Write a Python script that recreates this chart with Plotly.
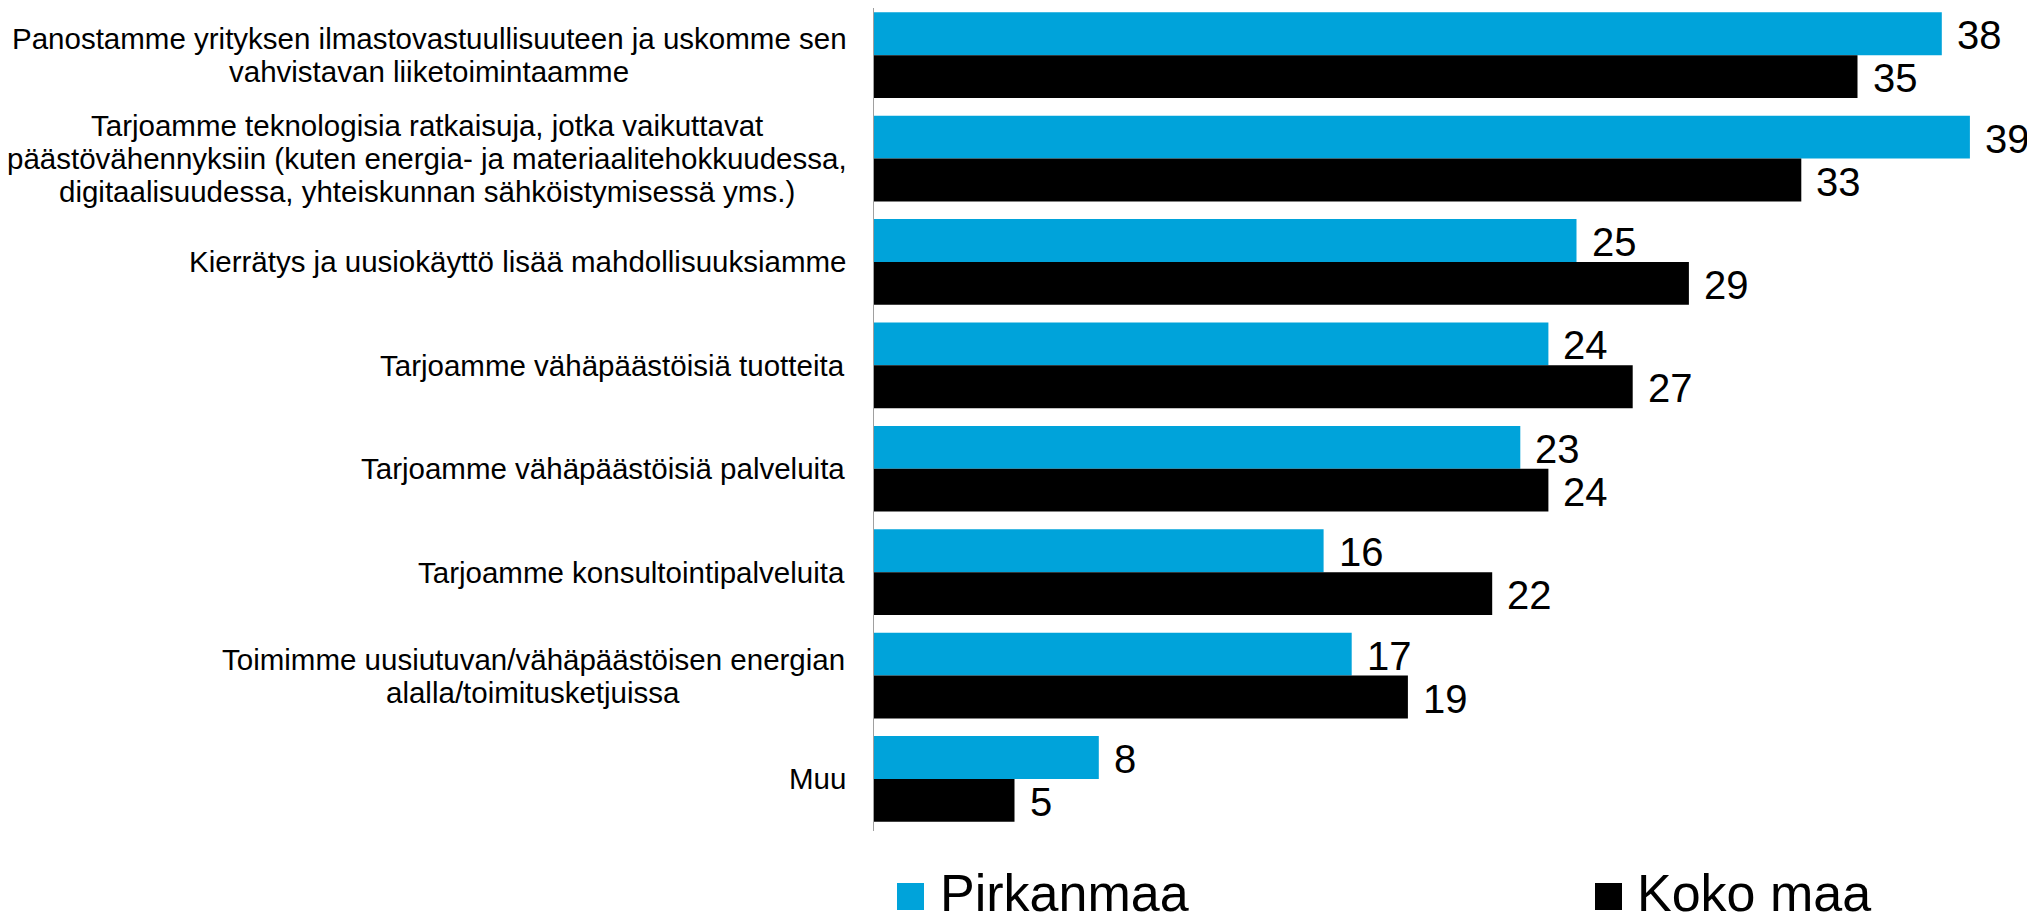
import plotly.graph_objects as go

categories = [
    "Panostamme yrityksen ilmastovastuullisuuteen ja uskomme sen<br>vahvistavan liiketoimintaamme",
    "Tarjoamme teknologisia ratkaisuja, jotka vaikuttavat<br>päästövähennyksiin (kuten energia- ja materiaalitehokkuudessa,<br>digitaalisuudessa, yhteiskunnan sähköistymisessä yms.)",
    "Kierrätys ja uusiokäyttö lisää mahdollisuuksiamme",
    "Tarjoamme vähäpäästöisiä tuotteita",
    "Tarjoamme vähäpäästöisiä palveluita",
    "Tarjoamme konsultointipalveluita",
    "Toimimme uusiutuvan/vähäpäästöisen energian<br>alalla/toimitusketjuissa",
    "Muu",
]
pirkanmaa = [38, 39, 25, 24, 23, 16, 17, 8]
koko_maa = [35, 33, 29, 27, 24, 22, 19, 5]
series_names = ["Pirkanmaa", "Koko maa"]
series_colors = ["#00A3DA", "#000000"]

FONT = "Liberation Sans, Arial, sans-serif"

# page body has an 8px default margin; work in page pixels and convert
OFF = 8
W, H = 2035 - OFF, 915 - OFF
ML = 874 - OFF
MT = 0
MB = 84
MR = 27
PW = W - ML - MR
PH = H - MT - MB
PX_PER_UNIT = 28.1
XMAX = PW / PX_PER_UNIT

# category band geometry (page px): band 0 top at 3.45, band height 103.4
BAND_TOP = 3.45 - OFF
BAND = 103.4
y_top = -0.5 + (0 - BAND_TOP) / BAND
y_bot = -0.5 + (PH - BAND_TOP) / BAND

# Arial / Liberation Sans advance widths (1/1000 em) for label centring
ADV = {" ": 278, "a": 556, "b": 556, "c": 500, "d": 556, "e": 556, "f": 278,
       "g": 556, "h": 556, "i": 222, "j": 222, "k": 500, "l": 222, "m": 833,
       "n": 556, "o": 556, "p": 556, "q": 556, "r": 333, "s": 500, "t": 278,
       "u": 556, "v": 500, "w": 722, "x": 500, "y": 500, "z": 500, "ä": 556,
       "ö": 556, "T": 611, "P": 667, "K": 667, "M": 833, "(": 333, ")": 333,
       ",": 278, ".": 278, "-": 333, "/": 278}

LABEL_SIZE = 29.5
LINE_SP = 33.0
LABEL_GAP = 27.5


def text_w(s, size):
    return sum(ADV.get(ch, 556) for ch in s) * size / 1000.0


fig = go.Figure()
for name, vals, col in zip(series_names, [pirkanmaa, koko_maa], series_colors):
    fig.add_trace(go.Bar(
        y=categories, x=vals, name=name, orientation="h",
        marker=dict(color=col, line=dict(width=0)),
        showlegend=False, hoverinfo="x+name",
    ))

annotations = []
# category labels: lines centred on each other, block right-aligned
for c in categories:
    lines = c.split("<br>")
    maxw = max(text_w(s, LABEL_SIZE) for s in lines)
    n = len(lines)
    for k, s in enumerate(lines):
        annotations.append(dict(
            x=0, xref="paper", y=c, yref="y", xanchor="center", yanchor="middle",
            xshift=-(LABEL_GAP + maxw / 2), yshift=((n - 1) / 2 - k) * LINE_SP,
            text=s, showarrow=False,
            font=dict(family=FONT, size=LABEL_SIZE, color="#000000"),
        ))
# value labels
for vals, ysh in zip([pirkanmaa, koko_maa], [20, -23]):
    for c, v in zip(categories, vals):
        annotations.append(dict(
            x=v, xref="x", y=c, yref="y", xanchor="left", yanchor="middle",
            xshift=13, yshift=ysh, text=str(v), showarrow=False,
            font=dict(family=FONT, size=40, color="#000000"),
        ))


# manual legend (page pixel positions converted to paper coords)
def px_x(px):
    return (px - OFF - ML) / PW


def px_y(py):
    return (MT + PH - (py - OFF)) / PH


shapes = []
legend_pos = [(897, 940), (1595, 1637)]
for (sq_x, tx_x), name, col in zip(legend_pos, series_names, series_colors):
    shapes.append(dict(
        type="rect", xref="paper", yref="paper",
        x0=px_x(sq_x), x1=px_x(sq_x + 27), y0=px_y(910), y1=px_y(883),
        fillcolor=col, line=dict(width=0),
    ))
    annotations.append(dict(
        x=px_x(tx_x - 2), xref="paper", y=px_y(893), yref="paper",
        xanchor="left", yanchor="middle", text=name, showarrow=False,
        font=dict(family=FONT, size=52, color="#000000"),
    ))

fig.update_layout(
    width=W, height=H,
    margin=dict(l=ML, r=MR, t=MT, b=MB, pad=0),
    paper_bgcolor="white", plot_bgcolor="white",
    barmode="group", bargap=0.171, bargroupgap=0,
    font=dict(family=FONT, color="#000000"),
    xaxis=dict(range=[0, XMAX], visible=False, fixedrange=True),
    yaxis=dict(range=[y_bot, y_top], showticklabels=False, ticks="",
               showgrid=False, zeroline=False, showline=True,
               linecolor="#A0A0A0", linewidth=1, fixedrange=True),
    annotations=annotations, shapes=shapes,
    showlegend=False,
)

fig.write_html("out.html", config={"displayModeBar": False})
